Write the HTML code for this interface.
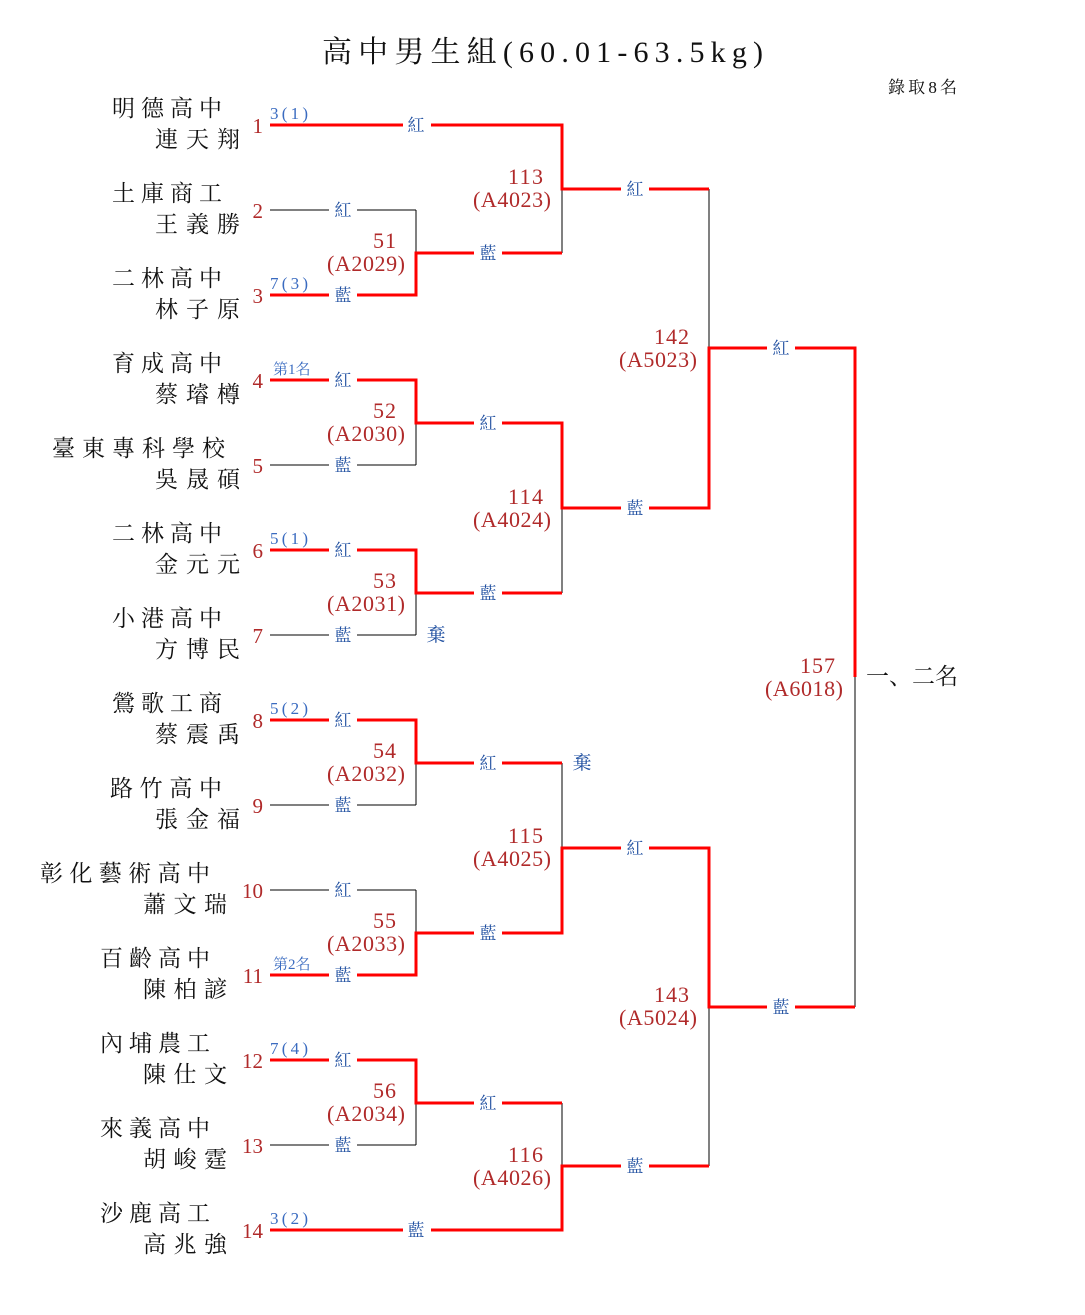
<!DOCTYPE html>
<html><head><meta charset="utf-8"><style>
html,body{margin:0;padding:0;background:#fff;}
svg{display:block;}
text{font-family:"Liberation Serif","Noto Serif CJK SC","Noto Sans CJK TC",serif;}
.nm{font-size:23px;fill:#111;}
.pn{font-size:21px;fill:#b02a2a;}
.sd{font-size:17px;fill:#3a6bc0;}
.lb{font-size:17px;fill:#1f4fa0;}
.mn{font-size:22px;fill:#b02a2a;}
.k{stroke:#000;stroke-width:1;fill:none;}
.r{stroke:#ff0000;stroke-width:3;fill:none;}
</style></head><body>
<svg width="1085" height="1315" viewBox="0 0 1085 1315" xmlns="http://www.w3.org/2000/svg">
<text x="322" y="62" style="font-size:30px" fill="#111" textLength="441" lengthAdjust="spacing">高中男生組(60.01-63.5kg)</text>
<text x="888" y="93" style="font-size:17px" fill="#111" textLength="69" lengthAdjust="spacing">錄取8名</text>

<path class="k" d="M270 210H416M270 465H416M270 635H416M270 805H416M270 890H416M270 1145H416
M416 210V253M416 423V465M416 593V635M416 763V805M416 890V933M416 1103V1145
M562 189V253M562 508V593M562 763V848M562 1103V1166
M709 189V348M709 1007V1166M855 677V1007"/>
<path class="r" d="M270 125H562V189H709
M270 295H416V253H562
M270 380H416V423H562V508H709V348H855V677
M270 550H416V593H562
M270 720H416V763H562
M270 975H416V933H562V848H709V1007H855
M270 1060H416V1103H562
M270 1230H562V1166H709"/>

<g class="lb" text-anchor="middle">
<g fill="#fff" stroke="none">
<rect x="403" y="115" width="28" height="20"/><rect x="403" y="1220" width="28" height="20"/>
<rect x="329" y="200" width="28" height="20"/><rect x="329" y="285" width="28" height="20"/><rect x="329" y="370" width="28" height="20"/><rect x="329" y="455" width="28" height="20"/><rect x="329" y="540" width="28" height="20"/><rect x="329" y="625" width="28" height="20"/><rect x="329" y="710" width="28" height="20"/><rect x="329" y="795" width="28" height="20"/><rect x="329" y="880" width="28" height="20"/><rect x="329" y="965" width="28" height="20"/><rect x="329" y="1050" width="28" height="20"/><rect x="329" y="1135" width="28" height="20"/>
<rect x="474" y="243" width="28" height="20"/><rect x="474" y="413" width="28" height="20"/><rect x="474" y="583" width="28" height="20"/><rect x="474" y="753" width="28" height="20"/><rect x="474" y="923" width="28" height="20"/><rect x="474" y="1093" width="28" height="20"/>
<rect x="621" y="179" width="28" height="20"/><rect x="621" y="498" width="28" height="20"/><rect x="621" y="838" width="28" height="20"/><rect x="621" y="1156" width="28" height="20"/>
<rect x="767" y="338" width="28" height="20"/><rect x="767" y="997" width="28" height="20"/>
</g>
<text x="416" y="131">紅</text><text x="416" y="1236">藍</text>
<text x="343" y="216">紅</text><text x="343" y="301">藍</text><text x="343" y="386">紅</text><text x="343" y="471">藍</text><text x="343" y="556">紅</text><text x="343" y="641">藍</text><text x="343" y="726">紅</text><text x="343" y="811">藍</text><text x="343" y="896">紅</text><text x="343" y="981">藍</text><text x="343" y="1066">紅</text><text x="343" y="1151">藍</text>
<text x="488" y="259">藍</text><text x="488" y="429">紅</text><text x="488" y="599">藍</text><text x="488" y="769">紅</text><text x="488" y="939">藍</text><text x="488" y="1109">紅</text>
<text x="635" y="195">紅</text><text x="635" y="514">藍</text><text x="635" y="854">紅</text><text x="635" y="1172">藍</text>
<text x="781" y="354">紅</text><text x="781" y="1013">藍</text>
<text x="436" y="641" style="font-size:19px">棄</text><text x="582" y="769" style="font-size:19px">棄</text>
</g>

<g class="sd" lengthAdjust="spacingAndGlyphs">
<text x="270" y="119" textLength="38">3(1)</text><text x="270" y="289" textLength="38">7(3)</text><text x="273" y="374" style="font-size:15px">第1名</text>
<text x="270" y="544" textLength="38">5(1)</text><text x="270" y="714" textLength="38">5(2)</text><text x="273" y="969" style="font-size:15px">第2名</text>
<text x="270" y="1054" textLength="38">7(4)</text><text x="270" y="1224" textLength="38">3(2)</text>
</g>

<g class="mn" lengthAdjust="spacingAndGlyphs">
<text x="373" y="248" textLength="23">51</text><text x="327" y="271" textLength="78">(A2029)</text>
<text x="373" y="418" textLength="23">52</text><text x="327" y="441" textLength="78">(A2030)</text>
<text x="373" y="588" textLength="23">53</text><text x="327" y="611" textLength="78">(A2031)</text>
<text x="373" y="758" textLength="23">54</text><text x="327" y="781" textLength="78">(A2032)</text>
<text x="373" y="928" textLength="23">55</text><text x="327" y="951" textLength="78">(A2033)</text>
<text x="373" y="1098" textLength="23">56</text><text x="327" y="1121" textLength="78">(A2034)</text>
<text x="508" y="184" textLength="35">113</text><text x="473" y="207" textLength="78">(A4023)</text>
<text x="508" y="504" textLength="35">114</text><text x="473" y="527" textLength="78">(A4024)</text>
<text x="508" y="843" textLength="35">115</text><text x="473" y="866" textLength="78">(A4025)</text>
<text x="508" y="1162" textLength="35">116</text><text x="473" y="1185" textLength="78">(A4026)</text>
<text x="654" y="344" textLength="35">142</text><text x="619" y="367" textLength="78">(A5023)</text>
<text x="654" y="1002" textLength="35">143</text><text x="619" y="1025" textLength="78">(A5024)</text>
<text x="800" y="673" textLength="35">157</text><text x="765" y="696" textLength="78">(A6018)</text>
</g>
<text x="866" y="684" class="nm" textLength="92" lengthAdjust="spacing">一、二名</text>

<g class="pn" text-anchor="end">
<text x="263" y="133">1</text><text x="263" y="218">2</text><text x="263" y="303">3</text><text x="263" y="388">4</text><text x="263" y="473">5</text><text x="263" y="558">6</text><text x="263" y="643">7</text><text x="263" y="728">8</text><text x="263" y="813">9</text><text x="263" y="898">10</text><text x="263" y="983">11</text><text x="263" y="1068">12</text><text x="263" y="1153">13</text><text x="263" y="1238">14</text>
</g>

<g class="nm" lengthAdjust="spacing">
<text x="112" y="116" textLength="110">明德高中</text><text x="155" y="147" textLength="85">連天翔</text>
<text x="112" y="201" textLength="110">土庫商工</text><text x="155" y="232" textLength="85">王義勝</text>
<text x="112" y="286" textLength="110">二林高中</text><text x="155" y="317" textLength="85">林子原</text>
<text x="112" y="371" textLength="110">育成高中</text><text x="155" y="402" textLength="85">蔡璿樽</text>
<text x="52" y="456" textLength="173">臺東專科學校</text><text x="155" y="487" textLength="85">吳晟碩</text>
<text x="112" y="541" textLength="110">二林高中</text><text x="155" y="572" textLength="85">金元元</text>
<text x="112" y="626" textLength="110">小港高中</text><text x="155" y="657" textLength="85">方博民</text>
<text x="112" y="711" textLength="110">鶯歌工商</text><text x="155" y="742" textLength="85">蔡震禹</text>
<text x="110" y="796" textLength="112">路竹高中</text><text x="155" y="827" textLength="85">張金福</text>
<text x="40" y="881" textLength="170">彰化藝術高中</text><text x="143" y="912" textLength="84">蕭文瑞</text>
<text x="100" y="966" textLength="110">百齡高中</text><text x="143" y="997" textLength="84">陳柏諺</text>
<text x="100" y="1051" textLength="110">內埔農工</text><text x="143" y="1082" textLength="84">陳仕文</text>
<text x="100" y="1136" textLength="110">來義高中</text><text x="143" y="1167" textLength="84">胡峻霆</text>
<text x="100" y="1221" textLength="110">沙鹿高工</text><text x="143" y="1252" textLength="84">高兆強</text>
</g>
</svg>
</body></html>
